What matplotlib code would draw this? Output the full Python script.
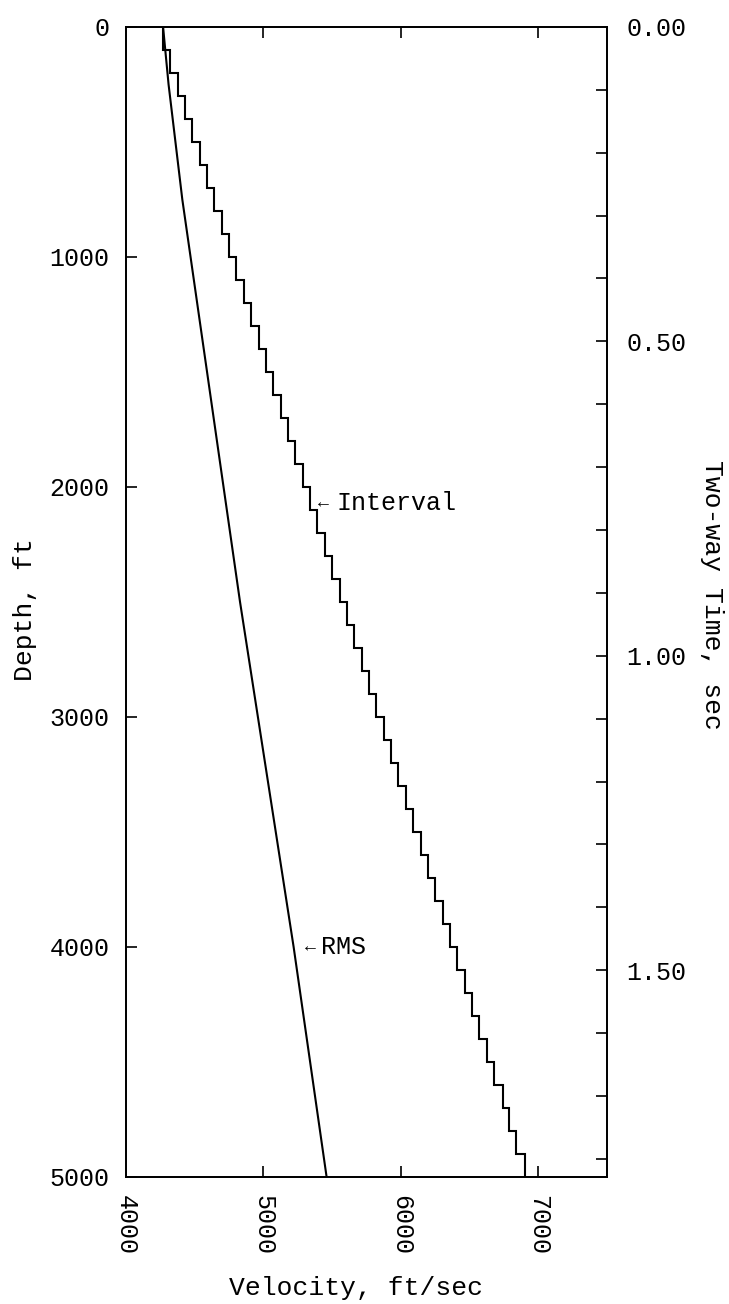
import numpy as np
import matplotlib.pyplot as plt
from matplotlib.ticker import FixedLocator, FuncFormatter

# ---- data ----
# interval velocity: one value per 100 ft layer (0-5000 ft)
layer_top = [0, 100, 200, 300, 400, 500, 600, 700, 800, 900,
             1000, 1100, 1200, 1300, 1400, 1500, 1600, 1700, 1800, 1900,
             2000, 2100, 2200, 2300, 2400, 2500, 2600, 2700, 2800, 2900,
             3000, 3100, 3200, 3300, 3400, 3500, 3600, 3700, 3800, 3900,
             4000, 4100, 4200, 4300, 4400, 4500, 4600, 4700, 4800, 4900, 5000]
v_interval = [4270, 4320, 4380, 4430, 4480, 4540, 4590, 4640, 4700, 4750,
              4800, 4860, 4910, 4970, 5020, 5070, 5130, 5180, 5230, 5290,
              5340, 5390, 5450, 5500, 5560, 5610, 5660, 5720, 5770, 5820,
              5880, 5930, 5980, 6040, 6090, 6150, 6200, 6250, 6310, 6360,
              6410, 6470, 6520, 6570, 6630, 6680, 6740, 6790, 6840, 6900]

# rms velocity vs depth
rms_depth = [0, 250, 500, 750, 1000, 1500, 2000, 2500, 3000, 3500, 4000, 4500, 5000]
v_rms = [4270, 4310, 4360, 4410, 4470, 4590, 4710, 4830, 4960, 5090, 5220, 5340, 5460]

time_ticks = [0.0, 0.1, 0.2, 0.3, 0.4, 0.5, 0.6, 0.7, 0.8, 0.9,
              1.0, 1.1, 1.2, 1.3, 1.4, 1.5, 1.6, 1.7, 1.8]
time_max = 1.829

plt.rcParams['font.family'] = ['Liberation Mono', 'DejaVu Sans Mono']
plt.rcParams['font.size'] = 18

fig = plt.figure(figsize=(7.29, 13.04), dpi=100)
ax = fig.add_axes([0.1728, 0.0974, 0.6598, 0.8819])

# staircase for interval velocity (horizontal orientation: values on x)
ax.stairs(v_interval, layer_top, orientation='horizontal', baseline=None,
          color='black', lw=1.5)
ax.plot(v_rms, rms_depth, color='black', lw=1.5)

ax.set_xlim(4000, 7500)
ax.set_ylim(5000, 0)

ax.set_xticks([4000, 5000, 6000, 7000])
ax.set_yticks([0, 1000, 2000, 3000, 4000, 5000])
ax.tick_params(axis='both', direction='in', length=8, width=1.2,
               top=True, bottom=True, left=True, right=False)
ax.tick_params(axis='x', pad=13, labelrotation=-90)
ax.tick_params(axis='y', pad=12)
for t in ax.xaxis.get_major_ticks()[:1]:
    t.tick1line.set_visible(False)
    t.tick2line.set_visible(False)
for t in (ax.yaxis.get_major_ticks()[0], ax.yaxis.get_major_ticks()[-1]):
    t.tick1line.set_visible(False)
for lbl in ax.get_xticklabels():
    lbl.set_verticalalignment('top')

for s in ax.spines.values():
    s.set_linewidth(1.3)

# right axis: two-way time
ax2 = ax.twinx()
ax2.set_ylim(time_max, 0)
ax2.yaxis.set_major_locator(FixedLocator(time_ticks))
ax2.yaxis.set_major_formatter(FuncFormatter(
    lambda v, p: f'{v:.2f}' if abs(v * 2 - round(v * 2)) < 1e-6 else ''))
ax2.tick_params(axis='y', direction='in', length=8, width=1.2, pad=14)
ax2.yaxis.get_major_ticks()[0].tick2line.set_visible(False)
for s in ax2.spines.values():
    s.set_linewidth(1.3)

# axis titles
fig.text(356 / 729, 1 - 1288 / 1304, 'Velocity, ft/sec', fontsize=19,
         ha='center', va='center')
fig.text(25 / 729, 1 - 610 / 1304, 'Depth, ft', fontsize=19, rotation=90,
         ha='center', va='center')
fig.text(712 / 729, 1 - 595 / 1304, 'Two-way Time, sec', fontsize=19,
         rotation=-90, ha='center', va='center')

# curve labels
ax.text(5400, 2070, '\u2190', fontsize=13, va='center', ha='left')
ax.text(5530, 2070, 'Interval', fontsize=18, va='center', ha='left')
ax.text(5300, 4000, '\u2190', fontsize=13, va='center', ha='left')
ax.text(5420, 4000, 'RMS', fontsize=18, va='center', ha='left')

fig.savefig('out.png', dpi=100)
